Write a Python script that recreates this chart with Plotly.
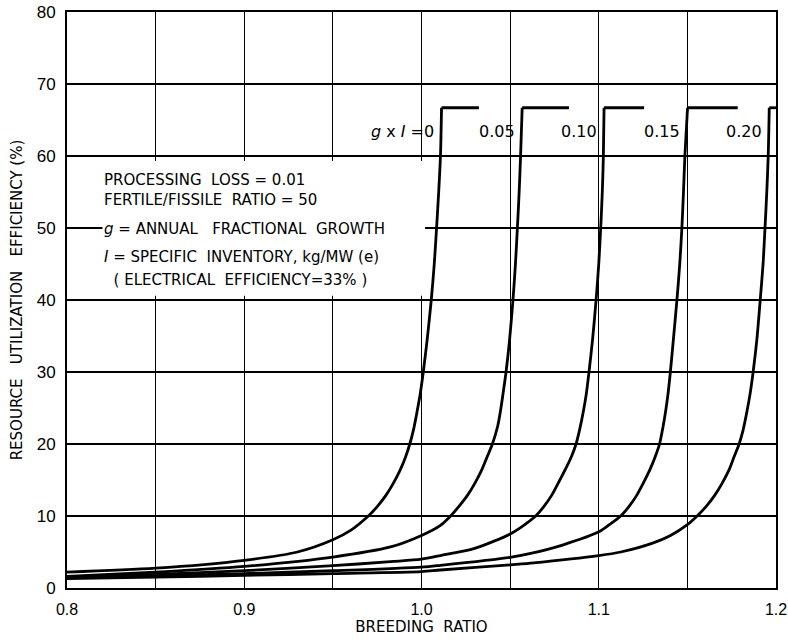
import plotly.graph_objects as go

# ---- data ----
gI_labels = ["0", "0.05", "0.10", "0.15", "0.20"]

c0_x = [0.80, 0.85, 0.90, 0.93, 0.95, 0.96, 0.97, 0.975, 0.98, 0.984, 0.988, 0.991, 0.9934, 0.9955, 0.9975,
        0.9993, 1.001, 1.0032, 1.0055, 1.0072, 1.0085, 1.0097, 1.0107, 1.0113]
c0_y = [2.2, 2.75, 3.85, 5.0, 6.7, 8.0, 10.0, 11.3, 12.9, 14.5, 16.4, 18.2, 20.0, 22.0, 24.5,
        27.0, 30.0, 34.5, 40.0, 45.0, 50.0, 55.0, 60.0, 66.7]

c1_x = [0.80, 0.85, 0.90, 0.95, 0.9825, 1.00, 1.0107, 1.0164, 1.021, 1.026, 1.030, 1.034, 1.037, 1.040,
        1.043, 1.0445, 1.046, 1.0477, 1.0497, 1.0516, 1.053, 1.0541, 1.0551, 1.0559, 1.0568]
c1_y = [1.6, 2.2, 3.0, 4.3, 5.7, 7.3, 8.7, 10.0, 11.3, 12.9, 14.5, 16.4, 18.2, 20.0,
        22.5, 24.5, 27.0, 30.0, 34.5, 40.0, 45.0, 50.0, 55.0, 60.0, 66.7]

c2_x = [0.80, 0.85, 0.90, 0.95, 0.9825, 1.00, 1.0107, 1.03, 1.05, 1.0565, 1.0644, 1.069, 1.0735, 1.077,
        1.081, 1.0845, 1.0872, 1.0894, 1.0913, 1.093, 1.0945, 1.0965, 1.0985, 1.1, 1.1011, 1.102, 1.1026, 1.1030]
c2_y = [1.5, 1.9, 2.4, 3.1, 3.66, 4.0, 4.5, 5.5, 7.5, 8.5, 10.0, 11.3, 12.9, 14.5,
        16.4, 18.2, 20.0, 22.2, 24.5, 27.0, 30.0, 34.5, 40.0, 45.0, 50.0, 55.0, 60.0, 66.7]

c3_x = [0.80, 0.85, 0.90, 0.95, 1.00, 1.0107, 1.05, 1.0616, 1.08, 1.10, 1.106, 1.1124, 1.117, 1.1215, 1.125,
        1.1288, 1.1318, 1.1343, 1.1362, 1.1377, 1.1391, 1.1404, 1.1421, 1.1441, 1.1457, 1.1469, 1.1478, 1.1486, 1.1501]
c3_y = [1.4, 1.7, 2.0, 2.4, 2.9, 3.15, 4.26, 4.8, 6.0, 7.8, 8.8, 10.0, 11.3, 12.9, 14.5,
        16.4, 18.2, 20.0, 22.3, 24.5, 27.0, 30.0, 34.5, 40.0, 45.0, 50.0, 55.0, 60.0, 66.7]

c4_x = [0.80, 0.85, 0.90, 0.95, 1.00, 1.0107, 1.05, 1.0616, 1.10, 1.1124, 1.13, 1.1405, 1.15, 1.1555, 1.1605,
        1.1655, 1.1695, 1.1735, 1.1763, 1.1792, 1.1815, 1.1836, 1.1854, 1.1871, 1.1892, 1.1911, 1.1927, 1.1938,
        1.1948, 1.1956, 1.1962]
c4_y = [1.3, 1.5, 1.75, 2.0, 2.27, 2.5, 3.2, 3.45, 4.5, 5.0, 6.2, 7.3, 8.8, 10.0, 11.3,
        12.9, 14.5, 16.4, 18.2, 20.0, 22.0, 24.5, 27.0, 30.0, 34.5, 40.0, 45.0, 50.0,
        55.0, 60.0, 66.7]

plateau_level = 66.7
plateau_start = [1.0113, 1.0568, 1.1030, 1.1501, 1.1962]
plateau_end = [1.0324, 1.0832, 1.1256, 1.1784, 1.2000]

curves_x = [c0_x, c1_x, c2_x, c3_x, c4_x]
curves_y = [c0_y, c1_y, c2_y, c3_y, c4_y]

x_ticks = [0.8, 0.9, 1.0, 1.1, 1.2]
x_tick_text = ["0.8", "0.9", "1.0", "1.1", "1.2"]
y_ticks = [0, 10, 20, 30, 40, 50, 60, 70, 80]

note_lines = [
    "PROCESSING  LOSS = 0.01",
    "FERTILE/FISSILE  RATIO = 50",
    "<i>g</i> = ANNUAL   FRACTIONAL  GROWTH",
    "<i>I</i> = SPECIFIC  INVENTORY, kg/MW (e)",
    "  ( ELECTRICAL  EFFICIENCY=33% )",
]
note_y = [56.6, 53.9, 49.8, 46.0, 42.8]

FONT = "DejaVu Sans"
TICKFONT = "Liberation Sans"

fig = go.Figure()
for cx, cy in zip(curves_x, curves_y):
    fig.add_trace(go.Scatter(x=cx, y=cy, mode="lines",
                             line=dict(color="black", width=2.8, shape="spline", smoothing=0.8),
                             showlegend=False, hoverinfo="skip"))
for xs, xe in zip(plateau_start, plateau_end):
    fig.add_trace(go.Scatter(x=[xs, xe], y=[plateau_level, plateau_level], mode="lines",
                             line=dict(color="black", width=2.8),
                             showlegend=False, hoverinfo="skip"))

# white area behind the notes (grid interrupted there)
fig.add_shape(type="rect", xref="x", yref="y", x0=0.82, x1=1.002, y0=40.6, y1=59.3,
              fillcolor="white", line=dict(width=0), layer="between")

for txt, yy in zip(note_lines, note_y):
    fig.add_annotation(x=0.82, y=yy, xref="x", yref="y", text=txt, showarrow=False,
                       xanchor="left", yanchor="middle",
                       font=dict(family=FONT, size=15, color="black"))

# curve labels
label_texts = ["<i>g</i> x <i>I</i> =0"] + gI_labels[1:]
for txt, xs in zip(label_texts, plateau_start):
    fig.add_annotation(x=xs - 0.003, y=63.4, xref="x", yref="y", text=txt, showarrow=False,
                       xanchor="right", yanchor="middle",
                       font=dict(family=FONT, size=16, color="black"))

fig.update_xaxes(range=[0.8, 1.2], tickvals=x_ticks, ticktext=x_tick_text,
                 showgrid=True, gridcolor="black", gridwidth=1.4,
                 minor=dict(dtick=0.05, tick0=0.8, showgrid=True, gridcolor="black", gridwidth=1.2),
                 showline=True, linecolor="black", linewidth=2, mirror=True,
                 ticks="", zeroline=False, ticklabelstandoff=6, ticklabeloverflow="allow",
                 automargin=False,
                 tickfont=dict(family=TICKFONT, size=16, color="black"),
                 title=dict(text="BREEDING  RATIO", font=dict(family=FONT, size=15, color="black"), standoff=0))
fig.update_yaxes(range=[0, 80], tickvals=y_ticks,
                 showgrid=True, gridcolor="black", gridwidth=1.6,
                 showline=True, linecolor="black", linewidth=2, mirror=True,
                 ticks="", zeroline=False, ticklabelstandoff=6, ticklabeloverflow="allow",
                 automargin=False,
                 tickfont=dict(family=TICKFONT, size=17, color="black"),
                 title=dict(text="RESOURCE   UTILIZATION   EFFICIENCY (%)",
                            font=dict(family=FONT, size=15, color="black"), standoff=10))

fig.update_layout(width=788, height=643, margin=dict(l=67, r=12, t=12, b=55),
                  plot_bgcolor="white", paper_bgcolor="white")

fig.write_html("out.html")
